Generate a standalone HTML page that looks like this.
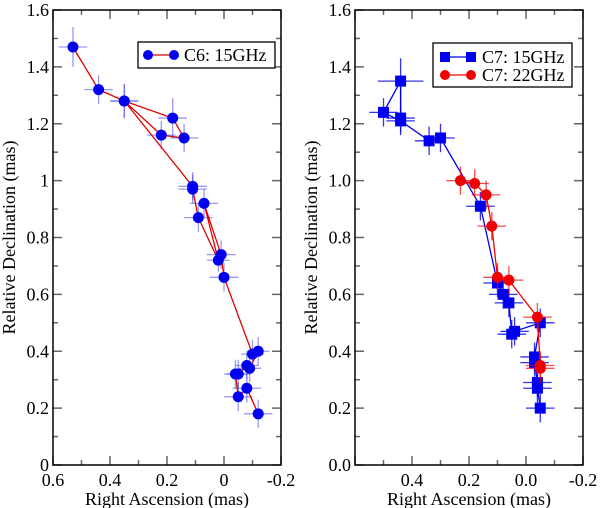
<!DOCTYPE html>
<html><head><meta charset="utf-8"><style>
html,body{margin:0;padding:0;background:#fff;}
svg{display:block;font-family:"Liberation Serif",serif;}
</style></head><body>
<svg id="chart" width="600" height="508" viewBox="0 0 600 508" xmlns="http://www.w3.org/2000/svg"></svg>
<script>
// Left panel: C6 15GHz
const c6Ra  = [0.53,0.44,0.35,0.18,0.14,0.22,0.35,0.11,0.11,0.09,0.02,0.07,0.01,0.00,-0.10,-0.12,-0.09,-0.08,-0.05,-0.04,-0.05,-0.08,-0.12];
const c6Dec = [1.47,1.32,1.28,1.22,1.15,1.16,1.28,0.98,0.97,0.87,0.72,0.92,0.74,0.66,0.39,0.40,0.34,0.35,0.32,0.32,0.24,0.27,0.18];
const c6ErrRa  = [0.05,0.05,0.05,0.05,0.05,0.05,0.05,0.05,0.05,0.05,0.04,0.05,0.05,0.05,0.04,0.04,0.04,0.04,0.04,0.04,0.05,0.05,0.05];
const c6ErrDec = [0.07,0.05,0.06,0.07,0.05,0.05,0.06,0.05,0.05,0.05,0.04,0.05,0.05,0.05,0.05,0.05,0.05,0.05,0.05,0.05,0.05,0.05,0.05];
// Right panel: C7 15GHz and 22GHz
const c7aRa  = [0.44,0.44,0.50,0.44,0.34,0.30,0.16,0.10,0.08,0.06,0.05,0.04,-0.05,-0.03,-0.03,-0.04,-0.04,-0.05];
const c7aDec = [1.22,1.35,1.24,1.21,1.14,1.15,0.91,0.64,0.60,0.57,0.46,0.47,0.50,0.38,0.36,0.29,0.27,0.20];
const c7aErr = [0.05,0.08,0.05,0.05,0.05,0.05,0.05,0.05,0.05,0.05,0.05,0.05,0.05,0.05,0.05,0.05,0.05,0.05];
const c7bRa  = [0.23,0.18,0.14,0.12,0.10,0.06,-0.04,-0.05,-0.05];
const c7bDec = [1.00,0.99,0.95,0.84,0.66,0.65,0.52,0.35,0.34];
const c7bErr = [0.05,0.05,0.05,0.05,0.05,0.05,0.05,0.05,0.05];
const yTicks = [0,0.2,0.4,0.6,0.8,1.0,1.2,1.4,1.6];
const yLabelsL = ["0","0.2","0.4","0.6","0.8","1","1.2","1.4","1.6"];
const yLabelsR = ["0.0","0.2","0.4","0.6","0.8","1.0","1.2","1.4","1.6"];
const xTicks = [0.6,0.4,0.2,0,-0.2];
const xLabelsL = ["0.6","0.4","0.2","0","-0.2"];
const xLabelsR = ["","0.4","0.2","0.0","-0.2"];

const svg = document.getElementById('chart');
const NS = 'http://www.w3.org/2000/svg';
function mk(tag, attrs, parent){const e=document.createElementNS(NS,tag);for(const k in attrs)e.setAttribute(k,attrs[k]);(parent||svg).appendChild(e);return e;}

function panel(L, R, yLabels, xLabels, name){
  const T=10, B=465;
  const sx = v => L + (0.6 - v) / 0.8 * (R - L);
  const sy = v => B - v / 1.6 * (B - T);
  const g = mk('g',{});
  
  
  for(let i=0;i<=16;i++){
    const v=i*0.1, y=sy(v), len=(i%2===0)?9:5;
    const t1=mk('line',{x1:L,y1:y,x2:L+len,y2:y,stroke:'#666','stroke-width':1.5},g);
    
    
    const t2=mk('line',{x1:R,y1:y,x2:R-len,y2:y,stroke:'#666','stroke-width':1.5},g);
    
    
  }
  for(let i=0;i<=8;i++){
    const v=0.6-i*0.1, x=sx(v), len=(i%2===0)?9:5;
    const t1=mk('line',{x1:x,y1:B,x2:x,y2:B-len,stroke:'#666','stroke-width':1.5},g);
    
    
    const t2=mk('line',{x1:x,y1:T,x2:x,y2:T+len,stroke:'#666','stroke-width':1.5},g);
    
    
  }
  const fr=mk('rect',{x:L,y:T,width:R-L,height:B-T,fill:'none',stroke:'#000','stroke-width':1.5},g);
  
  
  yTicks.forEach((v,i)=>{
    const t=mk('text',{x:L-4,y:sy(v)+6,'text-anchor':'end','font-size':18},g);
    t.textContent=yLabels[i];
    
    
  });
  xTicks.forEach((v,i)=>{
    const t=mk('text',{x:sx(v),y:486,'text-anchor':'middle','font-size':18},g);
    t.textContent=xLabels[i];
    
    
  });
  const xt=mk('text',{x:(L+R)/2,y:505,'text-anchor':'middle','font-size':18},g);
  xt.textContent='Right Ascension (mas)';
  
  
  const yx=L-38, yy=(T+B)/2;
  const yt=mk('text',{x:yx,y:yy,'text-anchor':'middle','font-size':18,transform:`rotate(-90 ${yx} ${yy})`},g);
  yt.textContent='Relative Declination (mas)';
  
  
  return {sx,sy,g};
}

function series(p, ra, dec, eRa, eDec, lineCol, markCol, errCol, shape, name){
  const g=mk('g',{},p.g);
  
  
  ra.forEach((v,i)=>{
    const x=p.sx(v), y=p.sy(dec[i]);
    const h=mk('line',{x1:p.sx(v+eRa[i]),y1:y,x2:p.sx(v-eRa[i]),y2:y,stroke:errCol,'stroke-width':1.3},g);
    
    
    const vl=mk('line',{x1:x,y1:p.sy(dec[i]+eDec[i]),x2:x,y2:p.sy(dec[i]-eDec[i]),stroke:errCol,'stroke-width':1.3},g);
    
    
  });
  const pts=ra.map((v,i)=>p.sx(v).toFixed(1)+','+p.sy(dec[i]).toFixed(1)).join(' ');
  const pl=mk('polyline',{points:pts,fill:'none',stroke:lineCol,'stroke-width':1.3},g);
  
  
  ra.forEach((v,i)=>{
    const x=p.sx(v), y=p.sy(dec[i]);
    let m;
    if(shape==='circle') m=mk('circle',{cx:x,cy:y,r:5.5,fill:markCol},g);
    else m=mk('rect',{x:x-5.5,y:y-5.5,width:11,height:11,fill:markCol},g);
    
    
  });
}

function legend(x,y,w,h,items,m1,m2,tx,top){
  const g=mk('g',{});
  
  
  mk('rect',{x:x,y:y,width:w,height:h,fill:'#fff',stroke:'#000','stroke-width':1.3},g);
  items.forEach((it,i)=>{
    const cy=y+top+i*18;
    const e=mk('g',{},g);
    
    
    mk('line',{x1:x+m1,y1:cy,x2:x+m2,y2:cy,stroke:it.line,'stroke-width':1.3},e);
    [x+m1,x+m2].forEach(cx=>{
      if(it.shape==='circle') mk('circle',{cx:cx,cy:cy,r:5,fill:it.mark},e);
      else mk('rect',{x:cx-5,y:cy-5,width:10,height:10,fill:it.mark},e);
    });
    const t=mk('text',{x:x+tx,y:cy+6,'font-size':18},e);
    t.textContent=it.label;
  });
}

const pL=panel(53,281,yLabelsL,xLabelsL,'left-panel');
series(pL,c6Ra,c6Dec,c6ErrRa,c6ErrDec,'#e00000','#0000f0','rgba(70,70,240,0.55)','circle','series-c6-15ghz');
legend(138,42,137,26,[{label:'C6: 15GHz',line:'#e00000',mark:'#0000f0',shape:'circle'}],10,36,46,13);

const pR=panel(355,583,yLabelsR,xLabelsR,'right-panel');
series(pR,c7aRa,c7aDec,c7aErr,c7aErr,'#0000f0','#0000f0','rgba(0,0,240,0.8)','square','series-c7-15ghz');
series(pR,c7bRa,c7bDec,c7bErr,c7bErr,'#f00000','#f00000','rgba(240,0,0,0.7)','circle','series-c7-22ghz');
legend(433,43,139,44,[{label:'C7: 15GHz',line:'#0000f0',mark:'#0000f0',shape:'square'},{label:'C7: 22GHz',line:'#f00000',mark:'#f00000',shape:'circle'}],12,38,49,14);
</script>
</body></html>
